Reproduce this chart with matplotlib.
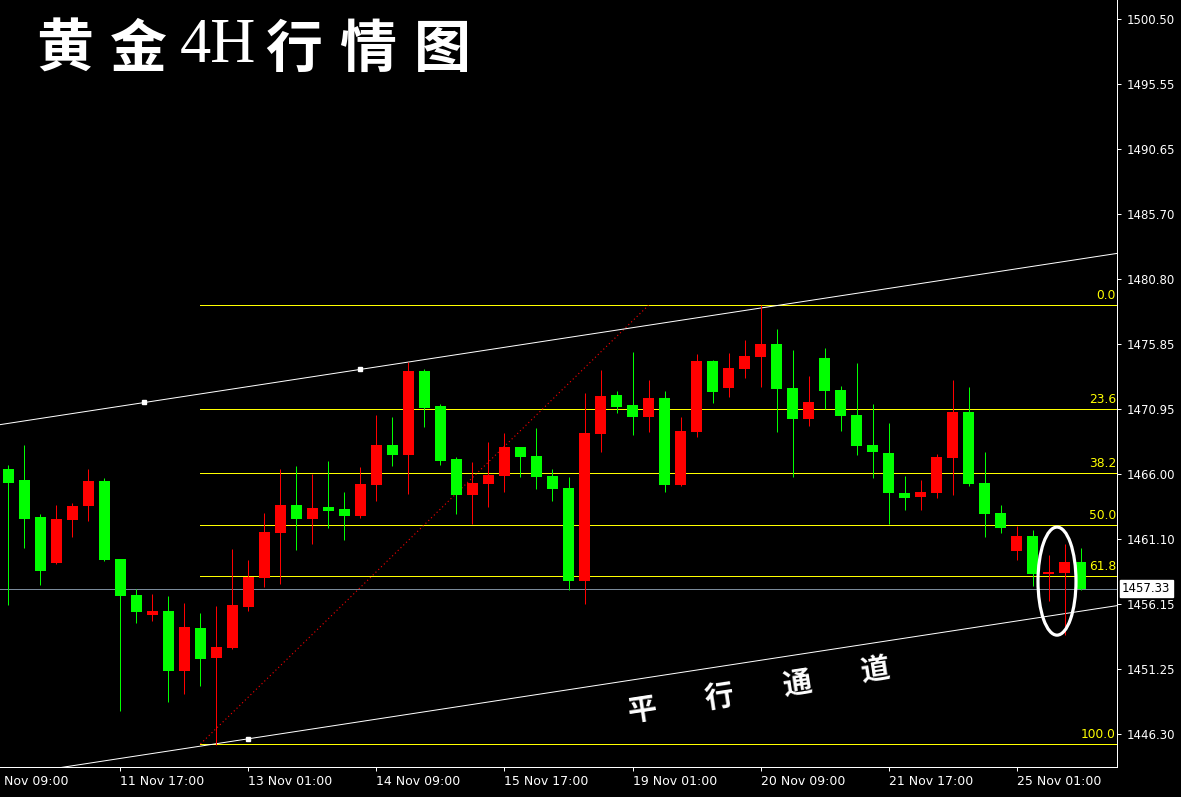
import matplotlib
matplotlib.use('Agg')
import matplotlib.pyplot as plt
from matplotlib.patches import Ellipse

W, H, DPI = 1181, 797, 100

# ---------------- data ----------------
opens = [1466.38, 1465.55, 1462.74, 1459.26, 1462.52, 1463.60, 1465.47, 1459.56, 1456.83, 1455.31,
         1455.62, 1451.07, 1454.33, 1452.05, 1452.81, 1455.92, 1458.12, 1461.53, 1463.65, 1462.59,
         1463.50, 1463.35, 1462.82, 1465.17, 1468.20, 1467.44, 1473.81, 1471.16, 1467.14, 1464.41,
         1465.25, 1465.85, 1468.05, 1467.37, 1465.85, 1464.94, 1457.89, 1469.04, 1471.99, 1471.24,
         1470.33, 1471.77, 1465.17, 1469.19, 1474.57, 1472.52, 1473.96, 1474.87, 1475.86, 1472.52,
         1470.17, 1474.80, 1472.37, 1470.48, 1468.20, 1467.60, 1464.56, 1464.26, 1464.56, 1467.22,
         1470.70, 1465.32, 1463.05, 1460.17, 1461.30, 1458.42, 1458.50, 1459.33]
highs = [1466.69, 1468.20, 1462.99, 1463.65, 1463.81, 1466.38, 1465.70, 1459.56, 1457.29, 1456.91,
         1456.76, 1456.22, 1455.47, 1456.00, 1460.32, 1459.48, 1463.05, 1466.38, 1466.61, 1466.00,
         1466.99, 1464.64, 1466.54, 1470.48, 1470.33, 1474.50, 1473.96, 1471.31, 1467.29, 1466.91,
         1468.43, 1469.11, 1468.05, 1469.49, 1466.38, 1465.78, 1472.15, 1473.89, 1472.30, 1475.25,
         1473.13, 1472.30, 1470.33, 1475.10, 1474.65, 1475.18, 1476.16, 1478.82, 1477.00, 1475.41,
         1473.43, 1475.56, 1472.68, 1474.42, 1471.31, 1469.87, 1465.85, 1465.55, 1467.52, 1473.13,
         1472.60, 1467.67, 1463.65, 1462.06, 1461.76, 1459.86, 1460.70, 1460.39]
lows = [1456.07, 1460.39, 1457.59, 1459.18, 1461.23, 1462.44, 1459.41, 1448.04, 1454.71, 1454.86,
        1448.72, 1449.32, 1449.93, 1445.46, 1452.74, 1455.62, 1457.44, 1457.66, 1460.24, 1460.70,
        1461.91, 1461.00, 1462.67, 1463.96, 1466.61, 1464.49, 1469.57, 1466.69, 1462.97, 1462.21,
        1463.50, 1464.64, 1465.78, 1464.87, 1463.96, 1457.21, 1456.15, 1467.67, 1470.63, 1468.96,
        1469.19, 1464.64, 1465.09, 1468.81, 1471.39, 1471.84, 1473.28, 1472.60, 1469.19, 1465.78,
        1469.64, 1470.93, 1469.26, 1467.44, 1465.70, 1462.21, 1463.28, 1463.28, 1464.19, 1464.41,
        1465.09, 1461.23, 1461.53, 1459.48, 1457.51, 1456.38, 1453.80, 1457.25]
closes = [1465.35, 1462.59, 1458.65, 1462.59, 1463.58, 1465.47, 1459.48, 1456.76, 1455.54, 1455.62,
          1451.07, 1454.40, 1451.98, 1452.89, 1456.07, 1458.20, 1461.61, 1463.65, 1462.59, 1463.43,
          1463.20, 1462.82, 1465.25, 1468.20, 1467.44, 1473.81, 1471.01, 1466.99, 1464.41, 1465.32,
          1465.93, 1468.05, 1467.29, 1465.78, 1464.87, 1457.89, 1469.11, 1471.92, 1471.08, 1470.33,
          1471.77, 1465.17, 1469.26, 1474.57, 1472.22, 1474.04, 1474.95, 1475.86, 1472.45, 1470.17,
          1471.46, 1472.30, 1470.40, 1468.13, 1467.67, 1464.56, 1464.19, 1464.64, 1467.29, 1470.70,
          1465.25, 1462.97, 1461.91, 1461.30, 1458.42, 1458.57, 1459.33, 1457.33]

time_labels = ["8 Nov 09:00", "11 Nov 17:00", "13 Nov 01:00", "14 Nov 09:00", "15 Nov 17:00",
               "19 Nov 01:00", "20 Nov 09:00", "21 Nov 17:00", "25 Nov 01:00"]
time_label_idx = [-1, 7, 15, 23, 31, 39, 47, 55, 63]

price_ticks = [1500.50, 1495.55, 1490.65, 1485.70, 1480.80, 1475.85, 1470.95,
               1466.00, 1461.10, 1456.15, 1451.25, 1446.30]
current_price = 1457.33

fib_levels = [0.0, 23.6, 38.2, 50.0, 61.8, 100.0]
fib_high, fib_high_idx = 1478.80, 40
fib_low, fib_low_idx = 1445.55, 12

chan_upper = [(8.5, 1471.43), (22, 1473.94)]
chan_lower_anchor = (15, 1445.94)

title_parts = ["黄", "金", "4H", "行", "情", "图"]
channel_words = ["平", "行", "通", "道"]

# ---------------- figure ----------------
fig = plt.figure(figsize=(W / DPI, H / DPI), dpi=DPI, facecolor='black')
ax = fig.add_axes([0, (H - 767) / H, 1117 / W, 767 / H])
ax.set_facecolor('black')
XMIN, XMAX = -0.53, 69.28
YMIN, YMAX = 1443.80, 1501.94

PX = 0.72  # one pixel in points

# current price line
ax.axhline(current_price, color='#7a8a9a', lw=PX, zorder=1)

# fib levels
fib_range = fib_high - fib_low
for lv in fib_levels:
    p = fib_high - lv / 100 * fib_range
    ax.plot([fib_low_idx, XMAX], [p, p], color='#ffff00', lw=PX, zorder=1)
    ax.annotate(f"{lv:.1f}", xy=(1.0, p), xycoords=('axes fraction', 'data'),
                xytext=(-1, 3), textcoords='offset pixels', ha='right', va='bottom',
                color='#ffff00', fontsize=8.8, family='DejaVu Sans')
ax.plot([fib_low_idx, fib_high_idx], [fib_low, fib_high], color='#ff0000',
        lw=0.8, ls=(0, (1, 2.5)), zorder=1)

# channel lines
(x1, y1), (x2, y2) = chan_upper
slope = (y2 - y1) / (x2 - x1)
xs = [XMIN, XMAX]
ax.plot(xs, [y1 + slope * (x - x1) for x in xs], color='white', lw=PX, zorder=1)
lx, ly = chan_lower_anchor
ax.plot(xs, [ly + slope * (x - lx) for x in xs], color='white', lw=PX, zorder=1)
ax.plot([x1, x2, lx], [y1, y2, ly], ls='none', marker='s', ms=3.4, color='white', zorder=2)

# candles
for i, (o, h, l, c) in enumerate(zip(opens, highs, lows, closes)):
    col = '#ff0000' if c > o else '#00ff00'
    ax.vlines(i, l, h, color=col, lw=PX, zorder=3)
    ax.bar(i, max(abs(c - o), 0.12), bottom=min(o, c), width=0.6875, color=col,
           linewidth=0, zorder=4)

# ellipse highlight
ax.add_patch(Ellipse((65.53, 1457.89), 2.375, 8.19, fill=False, edgecolor='white',
                     lw=2.3, zorder=5))

# axes styling
for s in ['top', 'left']:
    ax.spines[s].set_visible(False)
for s in ['right', 'bottom']:
    ax.spines[s].set_color('white')
    ax.spines[s].set_linewidth(PX)
ax.yaxis.tick_right()
ax.set_yticks(price_ticks)
ax.set_yticklabels([f"{v:.2f}" for v in price_ticks])
ax.tick_params(axis='y', colors='white', labelsize=8.5, length=3, width=PX, pad=4)
vis = [(i, t) for i, t in zip(time_label_idx, time_labels) if i >= XMIN]
ax.set_xticks([i for i, _ in vis])
ax.set_xticklabels([t for _, t in vis], ha='left')
ax.tick_params(axis='x', colors='white', labelsize=9, length=3, width=PX, pad=3)
# labels whose tick lies left of the visible window (partly cut off by the edge)
for i, t in zip(time_label_idx, time_labels):
    if i < XMIN:
        ax.annotate(t, xy=(i, 0), xycoords=('data', 'axes fraction'), xytext=(0, -6),
                    textcoords='offset points', ha='left', va='top', color='white',
                    fontsize=9, annotation_clip=False)
ax.set_xlim(XMIN, XMAX)
ax.set_ylim(YMIN, YMAX)

# current price box
ax.annotate(f"{current_price:.2f}", xy=(1.0, current_price), xycoords=('axes fraction', 'data'),
            xytext=(5, 0), textcoords='offset pixels', ha='left', va='center',
            color='black', fontsize=8.5,
            bbox=dict(boxstyle='square,pad=0.2', fc='white', ec='white'))

# title
cjk = ['Noto Sans CJK SC', 'DejaVu Sans']
def fpos(x, y):
    return x / W, 1 - y / H
title_centers = [(65, 50), (138, 50), (218, 47), (294, 50), (368, 50), (442, 50)]
for t, (cx, cy) in zip(title_parts, title_centers):
    if t == "4H":
        fig.text(*fpos(cx, cy), t, color='white', fontsize=45, family='Liberation Serif',
                 ha='center', va='center')
    else:
        fig.text(*fpos(cx, cy), t, color='white', fontsize=41, family=cjk,
                 fontweight='bold', ha='center', va='center')

# channel text
chan_centers = [(642, 710), (719, 697), (797, 683), (875, 670)]
for t, (cx, cy) in zip(channel_words, chan_centers):
    fig.text(*fpos(cx, cy), t, color='white', fontsize=21, family=cjk, fontweight='bold',
             ha='center', va='center', rotation=8.7, rotation_mode='anchor')

fig.savefig('out.png', dpi=DPI, facecolor='black')
